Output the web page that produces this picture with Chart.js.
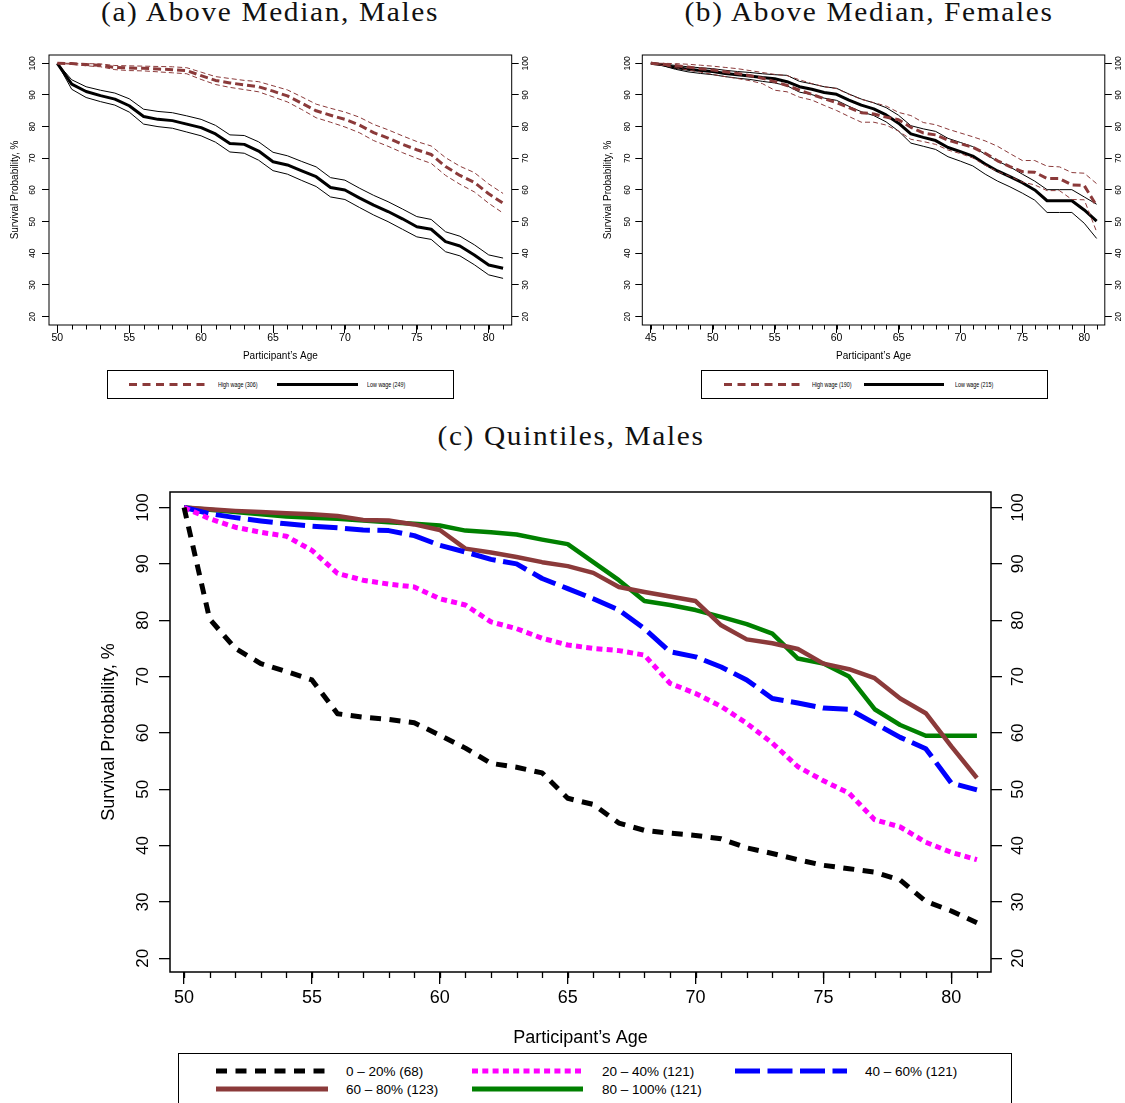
<!DOCTYPE html>
<html>
<head>
<meta charset="utf-8">
<script src="https://cdn.jsdelivr.net/npm/chart.js@4.4.1/dist/chart.umd.min.js"></script>
<style>
  body { margin: 0; width: 1125px; height: 1103px; overflow: hidden; background: #fff; position: relative; font-family: "Liberation Sans", Arial, sans-serif; }
  canvas { position: absolute; }
  .title { position: absolute; font-family: "Liberation Serif", serif; font-size: 27px; line-height: 27px; white-space: nowrap; transform: translateX(-50%) scaleX(1.089); color: #111; letter-spacing: 1.5px; }
  .legend { position: absolute; border: 1px solid #000; background: #fff; box-sizing: border-box; }
  .legend span { position: absolute; white-space: nowrap; line-height: 1; color: #000; }
  .legend svg { position: absolute; left: 0; top: 0; overflow: visible; }
  .small span { font-size: 7.5px; transform: scaleX(0.72); transform-origin: 0 50%; }
  .big span { font-size: 13.5px; }
</style>
</head>
<body>
<div class="title" style="left:270px; top:-1.5px;">(a) Above Median, Males</div>
<div class="title" style="left:869px; top:-1.5px;">(b) Above Median, Females</div>
<div class="title" style="left:571px; top:423px;">(c) Quintiles, Males</div>

<canvas id="chartA" width="560" height="370" style="left:0; top:0;"></canvas>
<canvas id="chartB" width="565" height="370" style="left:560px; top:0;"></canvas>
<canvas id="chartC" width="1125" height="580" style="left:0; top:470px;"></canvas>

<div class="legend small" style="left:107px; top:370px; width:347px; height:29px;">
  <svg width="347" height="29">
    <line x1="21" y1="13.5" x2="100" y2="13.5" stroke="#8B3A3A" stroke-width="3" stroke-dasharray="8 5.5"/>
    <line x1="169" y1="13.5" x2="250" y2="13.5" stroke="#000" stroke-width="3"/>
  </svg>
  <span style="left:110px; top:10px;">High wage (306)</span>
  <span style="left:259px; top:10px;">Low wage (249)</span>
</div>
<div class="legend small" style="left:701px; top:370px; width:347px; height:29px;">
  <svg width="347" height="29">
    <line x1="22" y1="13.5" x2="100" y2="13.5" stroke="#8B3A3A" stroke-width="3" stroke-dasharray="8 5.5"/>
    <line x1="162" y1="13.5" x2="242" y2="13.5" stroke="#000" stroke-width="3"/>
  </svg>
  <span style="left:110px; top:10px;">High wage (190)</span>
  <span style="left:253px; top:10px;">Low wage (215)</span>
</div>
<div class="legend big" style="left:178px; top:1053px; width:834px; height:70px;">
  <svg width="834" height="70">
    <line x1="37" y1="17" x2="149" y2="17" stroke="#000" stroke-width="5" stroke-dasharray="11 8.5"/>
    <line x1="293" y1="17" x2="404" y2="17" stroke="#FF00FF" stroke-width="5" stroke-dasharray="6 4.3"/>
    <line x1="556" y1="17" x2="668" y2="17" stroke="#0000FF" stroke-width="5" stroke-dasharray="25 7.5"/>
    <line x1="37" y1="35" x2="149" y2="35" stroke="#8B3A3A" stroke-width="5"/>
    <line x1="293" y1="35" x2="404" y2="35" stroke="#008000" stroke-width="5"/>
  </svg>
  <span style="left:167px; top:10.5px;">0 – 20% (68)</span>
  <span style="left:423px; top:10.5px;">20 – 40% (121)</span>
  <span style="left:686px; top:10.5px;">40 – 60% (121)</span>
  <span style="left:167px; top:28.5px;">60 – 80% (123)</span>
  <span style="left:423px; top:28.5px;">80 – 100% (121)</span>
</div>

<script>
// ages on the x axis
const agesAC = [50, 51, 52, 53, 54, 55, 56, 57, 58, 59, 60, 61, 62, 63, 64, 65,
  66, 67, 68, 69, 70, 71, 72, 73, 74, 75, 76, 77, 78, 79, 80, 81];
const agesB = [45, 46, 47, 48, 49, 50, 51, 52, 53, 54, 55, 56, 57, 58, 59, 60, 61, 62, 63,
  64, 65, 66, 67, 68, 69, 70, 71, 72, 73, 74, 75, 76, 77, 78, 79, 80, 81];
const xTicksAC = [50, 55, 60, 65, 70, 75, 80];
const xTicksB = [45, 50, 55, 60, 65, 70, 75, 80];
const yTicks = [20, 30, 40, 50, 60, 70, 80, 90, 100];

// (a) males, above median split
const highA = [100, 99.9, 99.6, 99.4, 98.7, 98.5, 98.4, 98.2, 98.0, 97.7, 96.1, 94.6, 93.8, 93.2, 92.6, 91.2,
  89.7, 87.4, 85.0, 83.6, 82.3, 80.5, 78.1, 76.4, 74.4, 72.7, 71.2, 67.4, 64.6, 62.4, 58.8, 55.8];
const highAUp = [100, 100, 99.9, 99.8, 99.3, 99.2, 99.1, 99.0, 98.9, 98.6, 97.2, 95.8, 95.2, 94.6, 94.2, 92.9,
  91.6, 89.4, 87.1, 85.8, 84.6, 83.0, 80.7, 79.0, 77.1, 75.3, 73.9, 70.2, 67.5, 65.5, 61.9, 58.9];
const highALo = [100, 99.7, 99.2, 98.9, 98.0, 97.7, 97.6, 97.3, 97.0, 96.7, 94.9, 93.3, 92.4, 91.7, 91.0, 89.4,
  87.8, 85.4, 82.8, 81.4, 79.9, 78.1, 75.6, 73.8, 71.8, 70.0, 68.4, 64.6, 61.8, 59.4, 55.8, 52.7];
const lowA = [100, 93.4, 91.1, 89.8, 88.7, 86.6, 83.2, 82.3, 81.9, 80.8, 79.7, 77.7, 74.7, 74.4, 72.3, 68.9,
  67.9, 66.0, 64.2, 60.8, 60.0, 57.5, 55.2, 53.2, 50.9, 48.4, 47.6, 43.7, 42.3, 39.5, 36.3, 35.3];
const lowAUp = [100, 94.8, 92.6, 91.5, 90.6, 88.8, 85.5, 84.8, 84.4, 83.4, 82.3, 80.4, 77.4, 77.2, 75.2, 71.9,
  70.8, 69.0, 67.3, 63.9, 63.1, 60.6, 58.3, 56.3, 54.0, 51.6, 50.7, 46.8, 45.4, 42.7, 39.5, 38.5];
const lowALo = [100, 91.8, 89.2, 87.9, 86.8, 84.6, 80.8, 80.0, 79.5, 78.3, 77.1, 75.1, 72.0, 71.6, 69.4, 66.1,
  65.0, 63.0, 61.1, 57.8, 57.0, 54.5, 52.1, 50.0, 47.6, 45.2, 44.4, 40.5, 39.2, 36.4, 33.2, 32.1];

// (b) females, above median split
const highB = [100, 99.7, 99.3, 98.8, 98.3, 97.9, 97.3, 96.8, 96.1, 95.3, 94.2, 93.0, 91.5, 90.2, 88.8, 87.6, 86.0,
  84.4, 84.0, 83.0, 82.2, 79.8, 78.0, 77.4, 75.7, 74.6, 73.5, 71.6, 69.2, 67.4, 65.8, 65.6, 63.6, 63.6, 61.6, 61.4, 55.0];
const highBUp = [100, 100, 99.9, 99.7, 99.4, 99.1, 98.7, 98.3, 97.7, 97.1, 96.5, 96.1, 94.8, 93.6, 92.6, 92.0, 90.2,
  88.6, 87.6, 86.5, 84.5, 83.5, 81.3, 80.6, 79.2, 78.0, 76.8, 75.5, 73.8, 71.5, 69.3, 69.3, 67.5, 67.3, 65.5, 65.3, 62.0];
const highBLo = [100, 99.3, 98.6, 97.9, 97.2, 96.5, 95.8, 95.2, 94.5, 93.6, 91.5, 91.0, 89.3, 88.4, 86.7, 85.1, 83.2,
  81.4, 81.4, 80.5, 78.6, 76.0, 75.3, 74.4, 72.6, 71.5, 70.1, 67.8, 65.8, 64.3, 62.5, 61.6, 59.8, 59.8, 57.0, 56.9, 46.8];
const lowB = [100, 99.5, 98.7, 98.1, 97.7, 97.4, 96.8, 96.4, 96.0, 95.5, 95.1, 94.2, 92.6, 91.8, 90.8, 90.2, 88.4,
  86.8, 85.6, 83.7, 81.1, 77.7, 76.6, 75.6, 73.4, 72.1, 70.7, 68.2, 66.0, 64.2, 62.3, 60.0, 56.6, 56.6, 56.6, 53.7, 50.2];
const lowBUp = [100, 99.8, 99.3, 98.9, 98.6, 98.3, 97.8, 97.4, 97.1, 96.7, 96.4, 96.2, 94.3, 93.5, 92.6, 92.1, 90.3,
  88.7, 87.5, 86.0, 83.6, 80.3, 79.3, 78.5, 76.3, 75.0, 73.7, 71.3, 69.1, 67.3, 65.0, 62.8, 60.1, 60.1, 60.1, 57.8, 55.5];
const lowBLo = [100, 99.2, 98.1, 97.3, 96.8, 96.4, 95.8, 95.3, 94.9, 94.3, 93.8, 92.9, 90.9, 90.1, 89.0, 88.3, 86.4,
  84.7, 83.5, 81.5, 78.6, 74.8, 73.8, 72.8, 70.5, 69.1, 67.6, 65.0, 62.8, 61.0, 59.0, 56.8, 52.9, 52.9, 52.9, 49.5, 44.7];

// (c) males, wage quintiles
const q1 = [100, 80.2, 75.0, 72.3, 70.9, 69.4, 63.4, 62.8, 62.4, 61.8, 59.6, 57.3, 54.6, 53.9, 52.9, 48.4,
  47.3, 44.0, 42.7, 42.2, 41.8, 41.2, 39.6, 38.6, 37.5, 36.5, 35.9, 35.3, 33.9, 30.1, 28.4, 26.3];
const q2 = [100, 98.0, 96.5, 95.6, 94.9, 92.4, 88.3, 87.1, 86.4, 85.9, 83.8, 82.7, 79.7, 78.5, 76.8, 75.6,
  75.0, 74.6, 73.8, 68.8, 67.0, 64.7, 61.7, 58.2, 54.0, 51.5, 49.3, 44.6, 43.3, 40.6, 38.8, 37.5];
const q3 = [100, 98.9, 98.2, 97.6, 97.1, 96.7, 96.4, 96.0, 95.9, 95.0, 93.3, 92.1, 90.8, 90.0, 87.4, 85.6,
  83.8, 81.8, 78.5, 74.4, 73.5, 71.7, 69.4, 66.1, 65.3, 64.4, 64.2, 61.7, 59.2, 57.2, 51.1, 49.9];
const q4 = [100, 99.7, 99.4, 99.2, 99.0, 98.8, 98.5, 97.8, 97.7, 97.0, 96.0, 92.7, 92.0, 91.2, 90.3, 89.6,
  88.4, 85.9, 85.0, 84.2, 83.4, 79.1, 76.6, 75.9, 74.9, 72.3, 71.3, 69.7, 66.1, 63.5, 57.6, 52.0];
const q5 = [100, 99.6, 99.2, 98.8, 98.4, 98.2, 98.0, 97.7, 97.4, 97.1, 96.8, 95.9, 95.6, 95.2, 94.3, 93.5,
  90.3, 87.1, 83.4, 82.7, 81.8, 80.6, 79.3, 77.6, 73.2, 72.3, 70.0, 64.2, 61.4, 59.5, 59.5, 59.5];

const MAROON = "#8B3A3A";
const FONT = "'Liberation Sans', Arial, sans-serif";

// box around the plot region
const boxPlugin = {
  id: "box",
  afterDatasetsDraw(chart, args, opts) {
    const a = chart.chartArea;
    const ctx = chart.ctx;
    ctx.save();
    ctx.strokeStyle = "#000";
    ctx.lineWidth = opts.width;
    ctx.strokeRect(a.left, a.top, a.right - a.left, a.bottom - a.top);
    ctx.restore();
  }
};

// short yearly ticks under the x axis
const minorTicks = {
  id: "minorTicks",
  afterDraw(chart, args, opts) {
    const x = chart.scales.x;
    const ctx = chart.ctx;
    const top = chart.chartArea.bottom;
    ctx.save();
    ctx.strokeStyle = "#000";
    ctx.lineWidth = opts.width;
    opts.values.forEach(function (v) {
      const px = Math.round(x.getPixelForValue(v)) + 0.5;
      ctx.beginPath();
      ctx.moveTo(px, top);
      ctx.lineTo(px, top + opts.length);
      ctx.stroke();
    });
    ctx.restore();
  }
};

function pts(xs, ys) {
  return xs.map(function (x, i) { return { x: x, y: ys[i] }; });
}

function line(label, xs, ys, color, width, dash) {
  return {
    label: label,
    data: pts(xs, ys),
    borderColor: color,
    borderWidth: width,
    borderDash: dash || [],
    borderCapStyle: "butt",
    borderJoinStyle: "round",
    pointRadius: 0,
    fill: false,
    tension: 0
  };
}

function yAxis(s, side) {
  const left = side === "left";
  return {
    type: "linear",
    position: side,
    min: s.ymin,
    max: s.ymax,
    afterBuildTicks: function (scale) { scale.ticks = yTicks.map(function (v) { return { value: v }; }); },
    afterFit: function (scale) { scale.width = left ? s.leftW : s.rightW; },
    grid: { drawOnChartArea: false, drawTicks: true, tickLength: s.yTick, color: "#000", lineWidth: s.tickW },
    border: { display: false },
    ticks: {
      minRotation: 90, maxRotation: 90, crossAlign: "center",
      padding: left ? s.yPadL : s.yPadR, color: "#000",
      font: { family: FONT, size: s.yFont }
    },
    title: {
      display: left, text: "Survival Probability, %", color: "#000",
      font: { family: FONT, size: s.titleFont },
      padding: { top: s.yTitlePad, bottom: 0 }
    }
  };
}

function makeChart(id, datasets, s) {
  return new Chart(document.getElementById(id), {
    type: "line",
    data: { datasets: datasets },
    options: {
      responsive: false,
      animation: false,
      devicePixelRatio: 1,
      layout: { autoPadding: false, padding: { top: s.padTop, left: 0, right: 0, bottom: 0 } },
      plugins: {
        legend: { display: false },
        tooltip: { enabled: false },
        box: { width: s.boxW },
        minorTicks: { values: s.ages, length: s.minorLen, width: s.tickW }
      },
      scales: {
        x: {
          type: "linear",
          min: s.xmin,
          max: s.xmax,
          afterBuildTicks: function (scale) { scale.ticks = s.xTicks.map(function (v) { return { value: v }; }); },
          afterFit: function (scale) { scale.height = s.bottomH; },
          grid: { drawOnChartArea: false, drawTicks: true, tickLength: s.xTick, color: "#000", lineWidth: s.tickW },
          border: { display: false },
          ticks: { autoSkip: false, maxRotation: 0, padding: s.xPad, color: "#000", font: { family: FONT, size: s.xFont } },
          title: {
            display: true, text: "Participant\u2019s Age", color: "#000",
            font: { family: FONT, size: s.titleFont },
            padding: { top: 0, bottom: s.xTitlePad }
          }
        },
        y: yAxis(s, "left"),
        y2: yAxis(s, "right")
      }
    },
    plugins: [boxPlugin, minorTicks]
  });
}

const smallBase = {
  ymin: 17.37, ymax: 102.62, padTop: 55, bottomH: 45,
  yTick: 7, xTick: 8, minorLen: 4.5, tickW: 1, boxW: 1,
  yFont: 8.5, xFont: 10.5, titleFont: 10, xPad: -1, xTitlePad: 8
};

makeChart("chartA", [
  line("High wage upper", agesAC, highAUp, MAROON, 1, [5, 3]),
  line("High wage lower", agesAC, highALo, MAROON, 1, [5, 3]),
  line("High wage (306)", agesAC, highA, MAROON, 3, [8, 4]),
  line("Low wage upper", agesAC, lowAUp, "#000", 1),
  line("Low wage lower", agesAC, lowALo, "#000", 1),
  line("Low wage (249)", agesAC, lowA, "#000", 3)
], Object.assign({}, smallBase, {
  ages: agesAC, xTicks: xTicksAC, xmin: 49.42, xmax: 81.6,
  leftW: 49, rightW: 48.3, yPadL: 2.4, yPadR: 0, yTitlePad: 9
}));

makeChart("chartB", [
  line("High wage upper", agesB, highBUp, MAROON, 1, [5, 3]),
  line("High wage lower", agesB, highBLo, MAROON, 1, [5, 3]),
  line("High wage (190)", agesB, highB, MAROON, 3, [8, 4]),
  line("Low wage upper", agesB, lowBUp, "#000", 1),
  line("Low wage lower", agesB, lowBLo, "#000", 1),
  line("Low wage (215)", agesB, lowB, "#000", 3)
], Object.assign({}, smallBase, {
  ages: agesB, xTicks: xTicksB, xmin: 44.31, xmax: 81.66,
  leftW: 82.3, rightW: 20.2, yPadL: 0.2, yPadR: 0, yTitlePad: 42.5
}));

makeChart("chartC", [
  line("0 – 20% (68)", agesAC, q1, "#000", 5, [11, 8.5]),
  line("20 – 40% (121)", agesAC, q2, "#FF00FF", 5, [6, 4.3]),
  line("40 – 60% (121)", agesAC, q3, "#0000FF", 5, [25, 7.5]),
  line("60 – 80% (123)", agesAC, q4, MAROON, 4.5),
  line("80 – 100% (121)", agesAC, q5, "#008000", 4.5)
], {
  ages: agesAC, xTicks: xTicksAC, xmin: 49.45, xmax: 81.55,
  ymin: 17.57, ymax: 102.75, padTop: 22, bottomH: 78,
  leftW: 170, rightW: 134, yTick: 11, xTick: 12, minorLen: 6, tickW: 1.3, boxW: 1.5,
  yFont: 17, xFont: 18, titleFont: 18, yPadL: 1.8, yPadR: 1.8, xPad: 2.9,
  yTitlePad: 98, xTitlePad: 1
});
</script>
</body>
</html>
